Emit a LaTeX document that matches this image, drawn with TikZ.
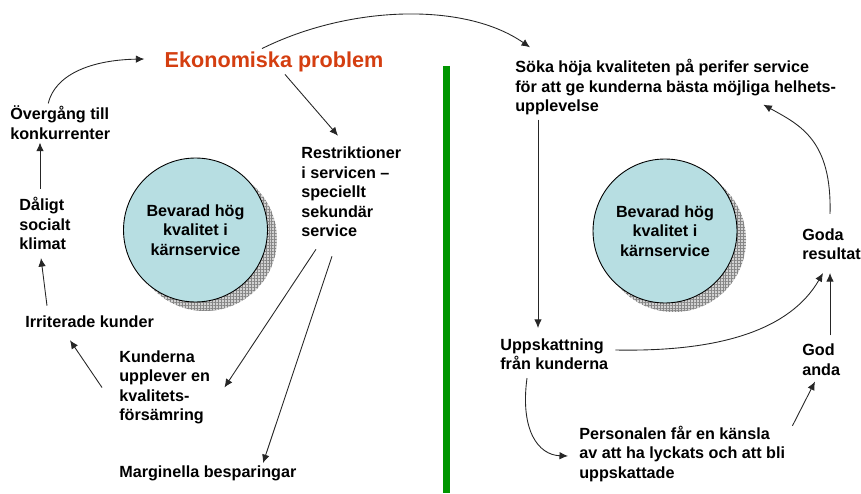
\documentclass[tikz,border=0pt]{standalone}
\usepackage{fontspec}
\setmainfont{Liberation Sans}
\usetikzlibrary{arrows.meta,calc,patterns.meta}
\definecolor{problemred}{RGB}{212,62,16}
\definecolor{coreteal}{RGB}{183,222,226}
\definecolor{dividergreen}{RGB}{0,150,0}
\tikzset{
  lbl/.style={anchor=west, align=left, inner sep=0pt, font=\fontsize{9.2}{11.1}\selectfont\bfseries},
  headline/.style={inner sep=0pt, text=problemred, font=\fontsize{12.3}{14}\selectfont\bfseries},
  core/.style={circle, draw=black, line width=0.5pt, fill=coreteal, minimum size=2.88cm, inner sep=0pt,
    align=center, font=\fontsize{9.2}{11}\selectfont\bfseries},
  coreshadow/.style={fill=gray!35, postaction={pattern={Hatch[distance=1.7pt,line width=0.35pt]}, pattern color=gray!95}},
  link/.style={-{Latex[length=1.7mm,width=1.5mm]}, line width=0.5pt, black!85},
}

\begin{document}
\begin{tikzpicture}[x=0.02cm, y=-0.02cm]
  \useasboundingbox (0,0) rectangle (861,493);
  \draw[dividergreen, line width=4pt] (446.5,66) -- (446.5,493);

  % hatched shadows behind the two core circles
  \fill[coreshadow] (205,239) circle (72);
  \fill[coreshadow] (674,240) circle (72);
  \node[core] (coreL) at (195.5,230) {Bevarad hög\\kvalitet i\\kärnservice};
  \node[core] (coreR) at (665,231) {Bevarad hög\\kvalitet i\\kärnservice};

  % left cycle
  \node[headline] (ekon) at (274,62) {Ekonomiska problem};
  \node[lbl] (ovg) at (10,122.5) {Övergång till\\konkurrenter};
  \node[lbl] (dal) at (19,223.5) {Dåligt\\socialt\\klimat};
  \node[lbl] (irr) at (25,322) {Irriterade kunder};
  \node[lbl] (kund) at (119,387.5) {Kunderna\\upplever en\\kvalitets-\\försämring};
  \node[lbl] (marg) at (119,473) {Marginella besparingar};
  \node[lbl] (restr) at (301,192) {Restriktioner\\i servicen --\\speciellt\\sekundär\\service};

  \draw[link] ($(ovg.north)+(-12,-2)$) .. controls (55,75) and (90,60) .. ($(ekon.west)+(-20,-3)$);
  \draw[link] ($(ekon.south)+(11,2)$) -- ($(restr.north west)+(37,-11)$);
  \draw[link] ($(restr.south west)+(15,12)$) -- ($(kund.east)+(14,0)$);
  \draw[link] ($(restr.south west)+(31,19)$) -- ($(marg.north west)+(144,-2)$);
  \draw[link] ($(kund.west)+(-17,0)$) -- ($(irr.south west)+(45,12)$);
  \draw[link] ($(irr.north west)+(22,-10)$) -- ($(dal.south west)+(22,8)$);
  \draw[link] ($(dal.north west)+(21,-8)$) -- ($(ovg.south west)+(30,3)$);

  % right cycle
  \node[lbl] (soka) at (515,87.5) {Söka höja kvaliteten på perifer service\\för att ge kunderna bästa möjliga helhets-\\upplevelse};
  \node[lbl] (upp) at (500,354) {Uppskattning\\från kunderna};
  \node[lbl] (pers) at (579,454) {Personalen får en känsla\\av att ha lyckats och att bli\\uppskattade};
  \node[lbl] (god) at (802,359.5) {God\\anda};
  \node[lbl] (goda) at (802,244) {Goda\\resultat};

  \draw[link] ($(ekon.north)+(-12,-3)$) .. controls (350,5) and (465,2) .. ($(soka.north west)+(15,-12)$);
  \draw[link] ($(soka.south west)+(23,4)$) -- ($(upp.north west)+(38,-10)$);
  \draw[link] ($(upp.south west)+(27,8)$) .. controls (520,430) and (538,455) .. ($(pers.west)+(-11,2)$);
  \draw[link] ($(pers.north east)+(7,0)$) -- ($(god.south west)+(13,6)$);
  \draw[link] ($(god.north west)+(28,-8)$) -- ($(goda.south west)+(28,13)$);
  \draw[link] ($(upp.east)+(7,-4)$) .. controls (720,352) and (790,330) .. ($(goda.south west)+(21,13)$);
  \draw[link] ($(goda.north west)+(28,-14)$) .. controls (832,140) and (800,125) .. ($(soka.south east)+(-73,-11)$);
\end{tikzpicture}
\end{document}
